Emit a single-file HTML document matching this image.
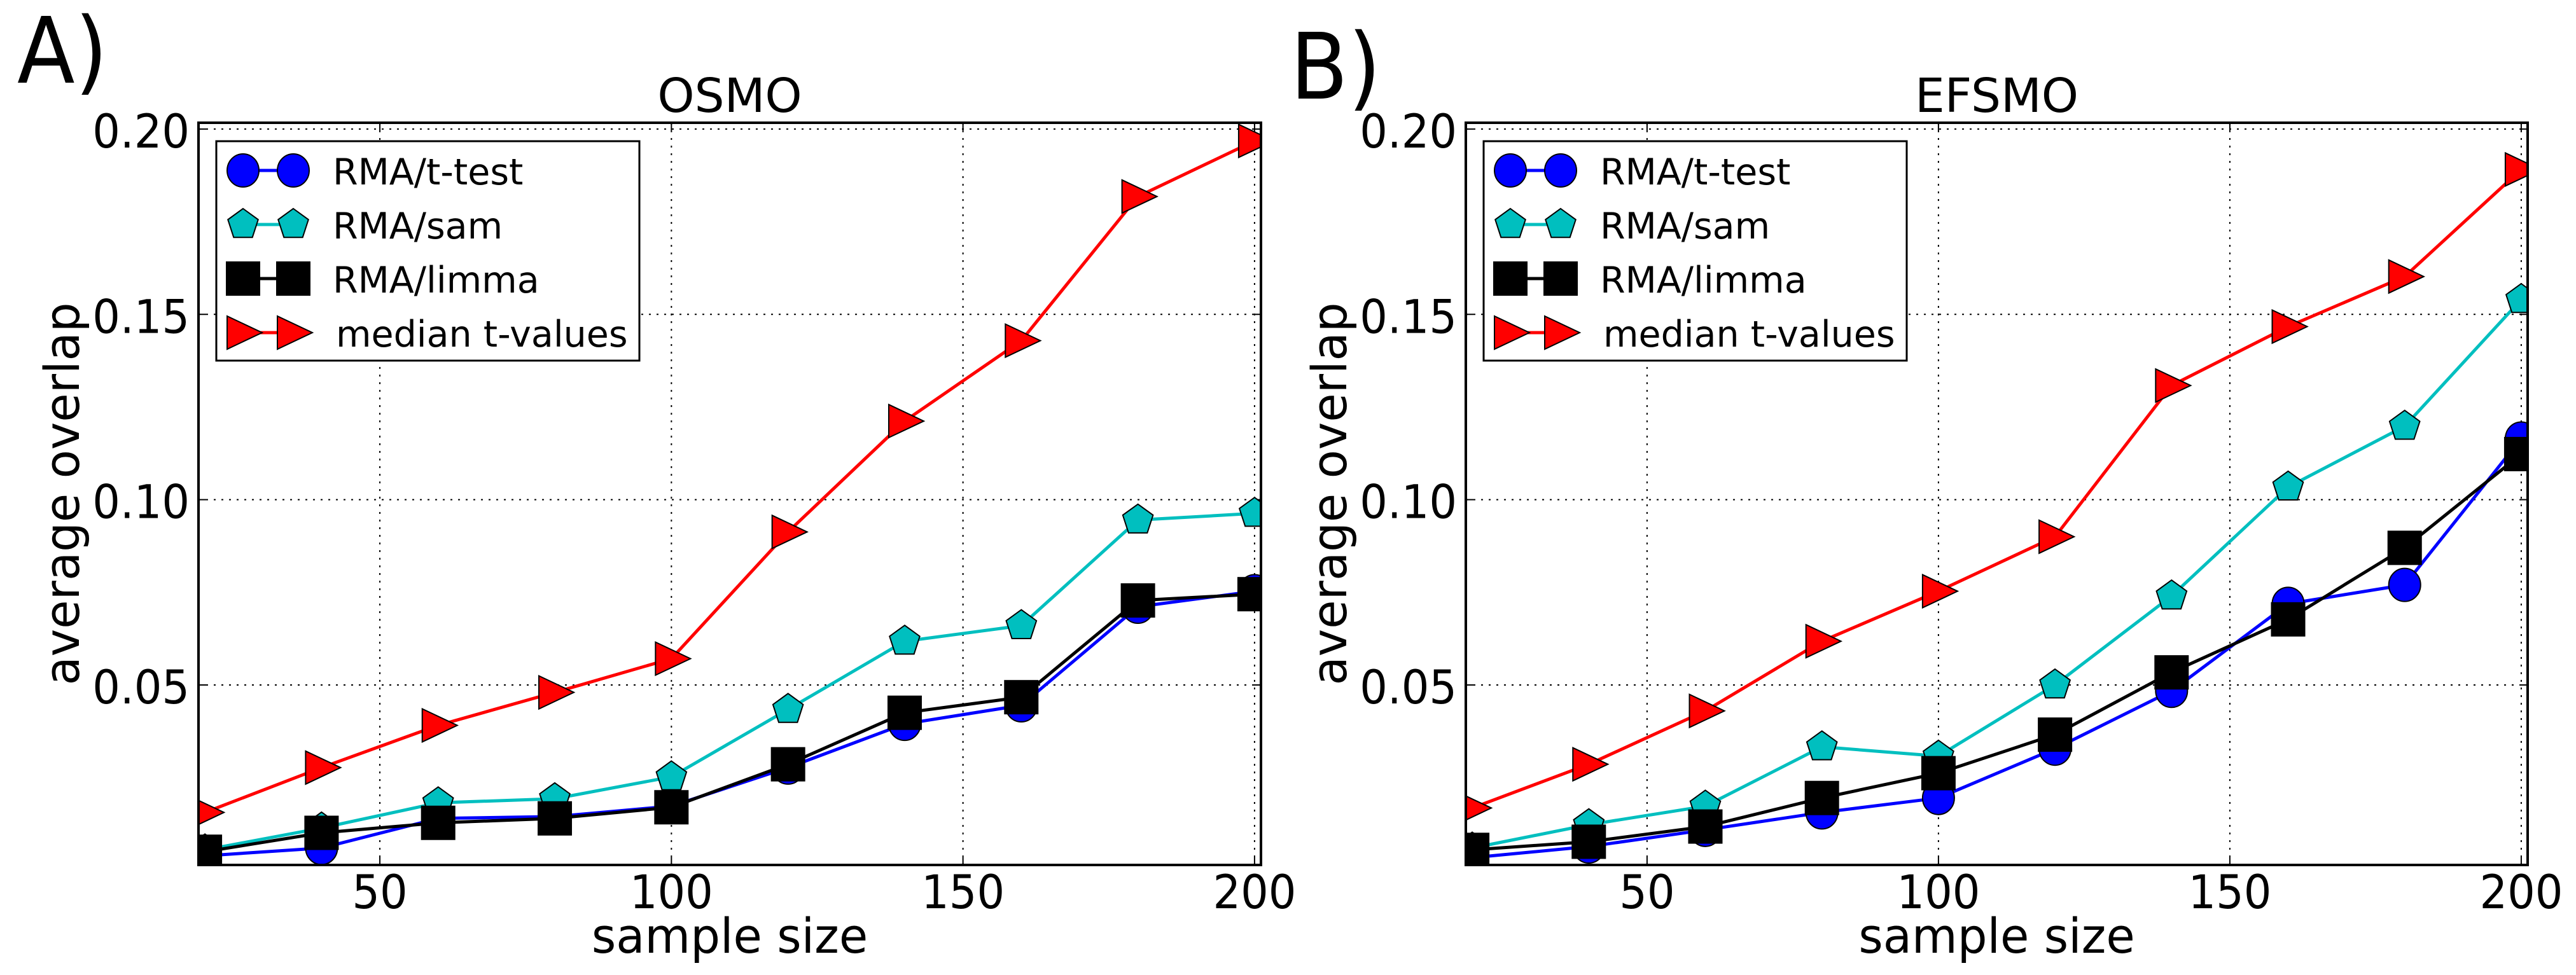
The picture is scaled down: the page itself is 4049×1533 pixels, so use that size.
<!DOCTYPE html>
<html><head><meta charset="utf-8"><style>
html,body{margin:0;padding:0;background:#fff;}
svg{display:block;}
text{font-family:"DejaVu Sans","Liberation Sans",sans-serif;fill:#000;}
</style></head><body>
<svg id="fig" width="4049" height="1533" viewBox="0 0 4049 1533" xmlns="http://www.w3.org/2000/svg">
<defs>
<clipPath id="clipA"><rect x="312" y="193" width="1670" height="1167"/></clipPath>
<clipPath id="clipB"><rect x="2304" y="193" width="1669" height="1167"/></clipPath>
</defs>
</svg>
<script>
const sampleSizes = [20,40,60,80,100,120,140,160,180,200];
const osmoTtest  = [0.0039,0.0060,0.0140,0.0145,0.0173,0.0277,0.0395,0.0445,0.0711,0.0753];
const osmoSam    = [0.0055,0.0114,0.0182,0.0193,0.0252,0.0434,0.0618,0.0660,0.0945,0.0963];
const osmoLimma  = [0.0050,0.0101,0.0128,0.0140,0.0170,0.0286,0.0425,0.0467,0.0728,0.0745];
const osmoMedian = [0.0156,0.0277,0.0391,0.0480,0.0571,0.0913,0.1212,0.1429,0.1818,0.1968];
const efsmoTtest  = [0.0034,0.0064,0.0109,0.0156,0.0195,0.0328,0.0484,0.0719,0.0770,0.1165];
const efsmoSam    = [0.0060,0.0123,0.0173,0.0333,0.0308,0.0500,0.0740,0.1034,0.1198,0.1540];
const efsmoLimma  = [0.0055,0.0077,0.0118,0.0195,0.0262,0.0366,0.0534,0.0677,0.0870,0.1123];
const efsmoMedian = [0.0168,0.0286,0.0430,0.0618,0.0753,0.0900,0.1308,0.1467,0.1602,0.1891];
const xTicks = [50,100,150,200];
const xTickLabels = ["50","100","150","200"];
const yTicks = [0.05,0.10,0.15,0.20];
const yTickLabels = ["0.05","0.10","0.15","0.20"];
const seriesNames = ["RMA/t-test","RMA/sam","RMA/limma","median t-values"];

const NS="http://www.w3.org/2000/svg";
const svg=document.getElementById('fig');
const XMIN=18.9, XMAX=201.1, YMIN=0.00143, YMAX=0.2017;
const TOP=193, BOT=1360;
function mk(tag,attrs,parent){const e=document.createElementNS(NS,tag);for(const k in attrs)e.setAttribute(k,attrs[k]);(parent||svg).appendChild(e);return e;}
function txt(s,x,y,size,anchor,parent,rot,sc){
  const g=mk('g',{transform:`translate(${x},${y})`+(rot?` rotate(${rot})`:'')+` scale(${sc||1},1)`},parent);
  const t=mk('text',{x:0,y:0,'font-size':size,'text-anchor':anchor||'start'},g);
  t.textContent=s;return t;}
function marker(type,cx,cy,color,parent){
  let e;
  if(type==='circle'){e=mk('ellipse',{cx:cx,cy:cy,rx:25,ry:26,fill:color,stroke:'#000','stroke-width':2},parent);}
  else if(type==='square'){e=mk('rect',{x:cx-26,y:cy-26,width:52,height:52,fill:color,stroke:'#000','stroke-width':2},parent);}
  else if(type==='tri'){e=mk('polygon',{points:`${cx-25},${cy-26} ${cx+30},${cy} ${cx-25},${cy+26}`,fill:color,stroke:'#000','stroke-width':2},parent);}
  else {let p=[];for(let i=0;i<5;i++){const a=-Math.PI/2+i*2*Math.PI/5;p.push((cx+25*Math.cos(a)).toFixed(1)+','+(cy+25*Math.sin(a)).toFixed(1));}
    e=mk('polygon',{points:p.join(' '),fill:color,stroke:'#000','stroke-width':2},parent);}
  return e;}
const styles=[{c:'#0000ff',m:'circle'},{c:'#00bfbf',m:'pent'},{c:'#000000',m:'square'},{c:'#ff0000',m:'tri'}];

function panel(id,x0,x1,title,data,clip,legX,label,labX,labY,ylabX){
  const sx=v=>x0+(v-XMIN)/(XMAX-XMIN)*(x1-x0);
  const sy=v=>BOT-(v-YMIN)/(YMAX-YMIN)*(BOT-TOP);
  const g=mk('g',{});
  
  
  const grid=mk('g',{},g);
  
  
  xTicks.forEach((v,i)=>{
    mk('line',{x1:sx(v),x2:sx(v),y1:TOP,y2:BOT,stroke:'#000','stroke-width':2,'stroke-dasharray':'3 9'},grid);
    mk('line',{x1:sx(v),x2:sx(v),y1:BOT,y2:BOT-12,stroke:'#000','stroke-width':2},g);
    mk('line',{x1:sx(v),x2:sx(v),y1:TOP,y2:TOP+12,stroke:'#000','stroke-width':2},g);
    const t=txt(xTickLabels[i],sx(v),1428,73,'middle',g,0,0.94);
    
    
  });
  yTicks.forEach((v,i)=>{
    mk('line',{x1:x0,x2:x1,y1:sy(v),y2:sy(v),stroke:'#000','stroke-width':2,'stroke-dasharray':'3 9'},grid);
    mk('line',{x1:x0,x2:x0+12,y1:sy(v),y2:sy(v),stroke:'#000','stroke-width':2},g);
    mk('line',{x1:x1,x2:x1-12,y1:sy(v),y2:sy(v),stroke:'#000','stroke-width':2},g);
    const t=txt(yTickLabels[i],x0-14,sy(v)+29,73,'end',g,0,0.94);
    
    
  });
  const plot=mk('g',{'clip-path':`url(#${clip})`},g);
  data.forEach((ser,si)=>{
    const st=styles[si];
    const sg=mk('g',{},plot);
    
    
    mk('polyline',{points:ser.map((v,i)=>sx(sampleSizes[i])+','+sy(v)).join(' '),fill:'none',stroke:st.c,'stroke-width':5,'stroke-linejoin':'round'},sg);
    ser.forEach((v,i)=>{const m=marker(st.m,sx(sampleSizes[i]),sy(v),st.c,sg);
      
      });
  });
  const frame=mk('rect',{x:x0,y:TOP,width:x1-x0,height:BOT-TOP,fill:'none',stroke:'#000','stroke-width':4},g);
  
  
  const lg=mk('g',{},g);
  
  
  mk('rect',{x:legX,y:222,width:665,height:345,fill:'#fff',stroke:'#000','stroke-width':3},lg);
  const rows=[268,353,438,523];
  seriesNames.forEach((n,i)=>{
    const st=styles[i];
    const e=mk('g',{},lg);
    
    
    mk('line',{x1:legX+42,x2:legX+121,y1:rows[i],y2:rows[i],stroke:st.c,'stroke-width':5},e);
    marker(st.m,legX+42,rows[i],st.c,e);
    marker(st.m,legX+121,rows[i],st.c,e);
    txt(n,legX+(i==3?188:183),rows[i]+22,57,'start',e,0,1);
  });
  const tt=txt(title,(x0+x1)/2,176,74,'middle',g,0,1);
  
  
  const xl=txt('sample size',(x0+x1)/2,1498,76,'middle',g,0,0.97);
  
  
  const yl=txt('average overlap',ylabX,(TOP+BOT)/2,76,'middle',g,-90,0.97);
  
  
  const pl=txt(label,labX,labY,144,'start',g,0,0.92);
  
  
}
panel('osmo',312,1982,'OSMO',[osmoTtest,osmoSam,osmoLimma,osmoMedian],'clipA',340,'A)',27,130,124);
panel('efsmo',2304,3973,'EFSMO',[efsmoTtest,efsmoSam,efsmoLimma,efsmoMedian],'clipB',2332,'B)',2028,155,2116);
</script>
</body></html>
